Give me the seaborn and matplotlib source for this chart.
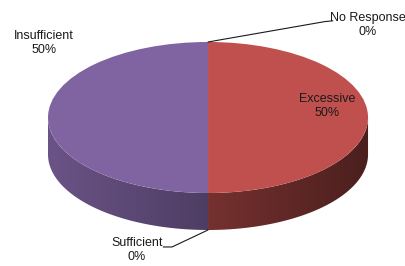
import numpy as np
import matplotlib
matplotlib.use("Agg")
import matplotlib.pyplot as plt
import seaborn as sns
from matplotlib.patches import Polygon

sns.set_theme(style="white")
plt.rcParams["font.family"] = ["Liberation Sans", "DejaVu Sans"]

# data (clockwise from 12 o'clock)
categories = ["No Response", "Excessive", "Sufficient", "Insufficient"]
values = [0, 50, 0, 50]
colors = sns.color_palette(["#4F81BD", "#C0504D", "#9BBB59", "#8064A2"])

depth = 0.49

fig = plt.figure(figsize=(4.05, 2.66), dpi=100)
ax = fig.add_axes([0, 0, 1, 1])

total = sum(values)
fracs = [v / total for v in values]
# angles in math degrees, going clockwise from 90
starts = []
ang = 90.0
for f in fracs:
    starts.append(ang)
    ang -= 360 * f
ends = [s - 360 * f for s, f in zip(starts, fracs)]

# side walls (front half only), shaded left to right
grad = np.linspace(0.83, 0.39, 256).reshape(1, -1)
for s, e, c, f in zip(starts, ends, colors, fracs):
    if f == 0:
        continue
    for lo_f, hi_f in [(-540, -360), (-180, 0), (180, 360)]:
        lo = max(e, lo_f)
        hi = min(s, hi_f)
        if hi <= lo:
            continue
        th = np.radians(np.linspace(lo, hi, 100))
        xs = np.cos(th)
        ys = np.sin(th)
        pts = np.vstack([np.column_stack([xs, ys]),
                         np.column_stack([xs[::-1], ys[::-1] - depth])])
        poly = Polygon(pts, closed=True, facecolor="none", edgecolor="none")
        ax.add_patch(poly)
        rgb = np.array(c)[None, None, :] * grad[:, :, None]
        im = ax.imshow(rgb, extent=(-1, 1, -1 - depth, 0), aspect="auto",
                       interpolation="bilinear", zorder=1)
        im.set_clip_path(poly)

# top face
ax.pie(values, colors=colors, startangle=90, counterclock=False,
       radius=1, wedgeprops=dict(linewidth=0, zorder=2))

ax.set_aspect("auto")
ax.set_xlim(-1.30, 1.231)
ax.set_ylim(-1.967, 1.556)
ax.axis("off")

# labels
fs = 9
tc = "#1a1a1a"
pct = [f"{round(f * 100)}%" for f in fracs]
lab = {c: f"{c}\n{p}" for c, p in zip(categories, pct)}

ax.text(0.744, 0.15, lab["Excessive"], ha="center", va="center",
        fontsize=fs, linespacing=1.2, color=tc, zorder=5)
ax.text(-1.025, 0.99, lab["Insufficient"], ha="center", va="center",
        fontsize=fs, linespacing=1.2, color=tc, zorder=5)

# No Response leader from top point
a = np.radians(starts[0])
ax.plot([np.cos(a), 0.73, 0.78], [np.sin(a), 1.27, 1.28],
        color=tc, lw=0.8, zorder=5)
ax.text(1.0, 1.225, lab["No Response"], ha="center", va="center",
        fontsize=fs, linespacing=1.2, color=tc, zorder=5)

# Sufficient leader from bottom of side
a = np.radians(starts[2])
ax.plot([np.cos(a), -0.225, -0.28], [np.sin(a) - depth, -1.715, -1.715],
        color=tc, lw=0.8, zorder=5)
ax.text(-0.444, -1.755, lab["Sufficient"], ha="center", va="center",
        fontsize=fs, linespacing=1.2, color=tc, zorder=5)

fig.savefig("out.png", dpi=100)
